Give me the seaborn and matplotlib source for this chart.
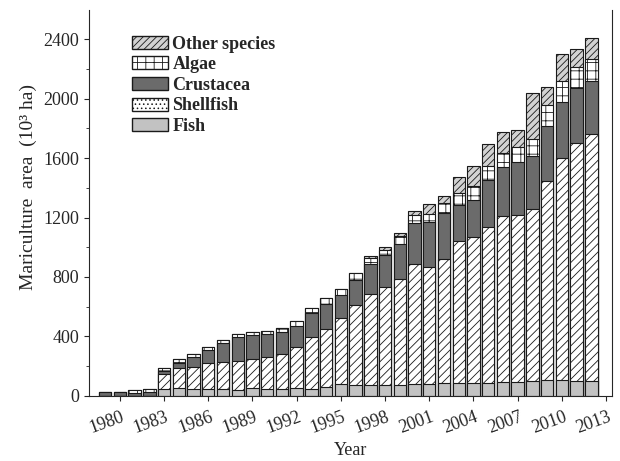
import numpy as np
import matplotlib
matplotlib.use("Agg")
import matplotlib.pyplot as plt
import matplotlib.transforms as mtransforms
from matplotlib.patches import Patch
import seaborn as sns

sns.set_style("ticks")
plt.rcParams['font.family'] = ['Liberation Serif', 'DejaVu Serif']
plt.rcParams['hatch.linewidth'] = 0.6

# data (10^3 ha)
years = np.arange(1979, 2013)
fish = [0, 0, 0, 0, 43, 50, 47, 43, 43, 38, 50, 47, 43, 50, 47, 61, 77,
        70, 72, 72, 72, 80, 79, 88, 83, 83, 88, 94, 94, 99, 106, 106, 101, 101]
shellfish = [0, 0, 0, 0, 103, 139, 148, 179, 182, 194, 199, 216, 236, 280, 346, 390, 448,
             539, 615, 662, 712, 805, 790, 830, 957, 984, 1050, 1116, 1123, 1156, 1342, 1497, 1599, 1661]
crustacea = [28, 26, 18, 22, 18, 33, 64, 86, 132, 161, 158, 150, 150, 141, 162, 164, 153,
             170, 198, 213, 235, 276, 299, 310, 244, 251, 315, 332, 359, 361, 370, 373, 374, 357]
algae = [0, 0, 18, 20, 22, 23, 20, 22, 18, 22, 20, 21, 25, 32, 34, 45, 40,
         45, 44, 34, 58, 56, 55, 68, 79, 94, 94, 94, 101, 111, 140, 145, 137, 146]
other = [0, 0, 0, 0, 0, 0, 0, 0, 0, 0, 0, 0, 0, 0, 0, 0, 0,
         0, 10, 18, 21, 27, 68, 51, 108, 135, 148, 138, 110, 309, 123, 180, 124, 142]

labels = ["Fish", "Shellfish", "Crustacea", "Algae", "Other species"]
layers = [fish, shellfish, crustacea, algae, other]
colors = ["#c2c2c2", "white", "#6b6b6b", "white", "#d2d2d2"]
hatches = [None, "////", None, "++", "/////"]
legend_hatches = [None, "....", None, "++", "/////"]

fig, ax = plt.subplots(figsize=(6.2, 4.61), dpi=100)
fig.subplots_adjust(left=0.1435, right=0.987, bottom=0.1416, top=0.979)

cum = np.cumsum(np.array(layers), axis=0)
# draw from the top of the stack down so each lower layer covers the one above
for i in range(len(layers) - 1, -1, -1):
    sns.barplot(x=years, y=cum[i], native_scale=True, color=colors[i],
                saturation=1, width=0.84, errorbar=None, hatch=hatches[i],
                edgecolor="#1a1a1a", linewidth=0.8, ax=ax)

ax.set_xlim(1977.9, 2013.4)
ax.set_ylim(0, 2600)
ax.tick_params(axis='x', pad=7)
ax.tick_params(axis='y', labelsize=13)
ax.set_xticks(np.arange(1980, 2014, 3))
ax.set_xticklabels([str(y) for y in range(1980, 2014, 3)], rotation=20, fontsize=13,
                   ha='right', va='top')
# nudge the rotated year labels a little to the right, as in the original
shift = mtransforms.ScaledTranslation(0.07, 0.02, fig.dpi_scale_trans)
for lab in ax.get_xticklabels():
    lab.set_transform(lab.get_transform() + shift)
ax.set_yticks(np.arange(0, 2401, 400))
ax.set_yticks(np.arange(200, 2600, 400), minor=True)
ax.set_xlabel("Year", fontsize=13)
ax.set_ylabel("Mariculture  area  (10³ ha)", fontsize=14)
ax.yaxis.set_label_coords(-0.1, 0.54)
ax.spines['top'].set_visible(False)

handles = [Patch(facecolor=colors[i], edgecolor="#1a1a1a", hatch=legend_hatches[i], label=labels[i])
           for i in range(len(labels) - 1, -1, -1)]
ax.legend(handles=handles, loc='upper left', bbox_to_anchor=(0.082, 0.933), frameon=False,
          borderaxespad=0, borderpad=0,
          prop={'weight': 'bold', 'size': 13}, handlelength=2.0, handleheight=0.72,
          labelspacing=0.2, handletextpad=0.25)

plt.savefig('out.png', dpi=100)
